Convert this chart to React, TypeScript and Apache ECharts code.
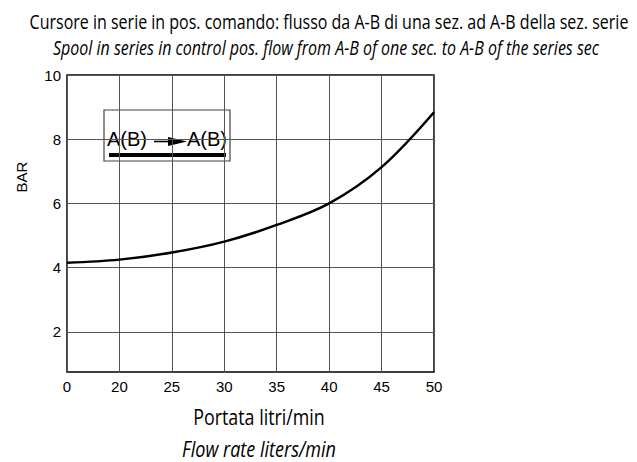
import React, { useEffect, useRef } from "react";
import * as echarts from "echarts";

const categories = ["0", "20", "25", "30", "35", "40", "45", "50"];
const pressureBar = [4.15, 4.25, 4.47, 4.81, 5.33, 6.0, 7.13, 8.84];
const yTicks = [2, 4, 6, 8, 10];
const titleIt = "Cursore in serie in pos. comando: flusso da A-B di una sez. ad A-B della sez. serie";
const titleEn = "Spool in series in control pos. flow from A-B of one sec. to A-B of the series sec";
const xNameIt = "Portata litri/min";
const xNameEn = "Flow rate liters/min";
const yName = "BAR";
const legendText = "A(B)";

const CONDENSED = "'Open Sans', 'Noto Sans', sans-serif";
const ARIAL = "'Liberation Sans', Arial, Helvetica, sans-serif";

export default function App() {
  const ref = useRef<HTMLDivElement>(null);
  useEffect(() => {
    if (!ref.current) return;
    const chart = echarts.init(ref.current, undefined, { renderer: "svg" });
    chart.setOption({
      animation: false,
      backgroundColor: "#fff",
      grid: {
        left: 67,
        right: 203,
        top: 75,
        bottom: 90,
        show: true,
        borderColor: "#000",
        borderWidth: 1.5,
        backgroundColor: "transparent",
      },
      xAxis: {
        type: "category",
        data: categories,
        boundaryGap: false,
        axisLine: { show: false },
        axisTick: { show: false },
        axisLabel: { color: "#000", fontSize: 15, fontFamily: ARIAL, margin: 7 },
        splitLine: { show: true, lineStyle: { color: "#555", width: 1 } },
      },
      yAxis: {
        type: "value",
        min: 0.75,
        max: 10,
        axisLine: { show: false },
        axisTick: { show: false, customValues: yTicks },
        axisLabel: { color: "#000", fontSize: 15, fontFamily: ARIAL, margin: 6, customValues: yTicks },
        splitLine: { show: true, lineStyle: { color: "#555", width: 1 } },
      },
      series: [
        {
          type: "line",
          data: pressureBar,
          smooth: 0.35,
          symbol: "none",
          lineStyle: { color: "#000", width: 2.5 },
          z: 3,
        },
      ],
      graphic: [
        {
          type: "text",
          x: 329,
          y: 21,
          scaleX: 0.8,
          style: {
            text: titleIt,
            fill: "#000",
            font: `20px ${CONDENSED}`,
            textAlign: "center",
            textVerticalAlign: "middle",
          },
        },
        {
          type: "text",
          x: 326,
          y: 47,
          scaleX: 0.8,
          style: {
            text: titleEn,
            fill: "#000",
            font: `italic 20px ${CONDENSED}`,
            textAlign: "center",
            textVerticalAlign: "middle",
          },
        },
        {
          type: "text",
          x: 259,
          y: 417,
          scaleX: 0.85,
          style: {
            text: xNameIt,
            fill: "#000",
            font: `21px ${CONDENSED}`,
            textAlign: "center",
            textVerticalAlign: "middle",
          },
        },
        {
          type: "text",
          x: 259,
          y: 449,
          scaleX: 0.86,
          style: {
            text: xNameEn,
            fill: "#000",
            font: `italic 21px ${CONDENSED}`,
            textAlign: "center",
            textVerticalAlign: "middle",
          },
        },
        {
          type: "text",
          x: 21,
          y: 177,
          rotation: Math.PI / 2,
          style: {
            text: yName,
            fill: "#000",
            font: `15px ${ARIAL}`,
            textAlign: "center",
            textVerticalAlign: "middle",
          },
        },
        {
          type: "group",
          z: 10,
          children: [
            {
              type: "rect",
              shape: { x: 104, y: 110, width: 126, height: 51 },
              style: { fill: "#fff", stroke: "#444", lineWidth: 1.2 },
            },
            {
              type: "text",
              x: 107,
              y: 139,
              style: { text: legendText, fill: "#000", font: `20px ${ARIAL}`, textVerticalAlign: "middle" },
            },
            {
              type: "text",
              x: 187,
              y: 139,
              style: { text: legendText, fill: "#000", font: `20px ${ARIAL}`, textVerticalAlign: "middle" },
            },
            {
              type: "line",
              shape: { x1: 154, y1: 141.5, x2: 172, y2: 141.5 },
              style: { stroke: "#000", lineWidth: 1.6 },
            },
            {
              type: "polygon",
              shape: { points: [[168, 137], [187, 141.5], [168, 146]] },
              style: { fill: "#000" },
            },
            {
              type: "rect",
              shape: { x: 109, y: 153, width: 117, height: 4 },
              style: { fill: "#000" },
            },
          ],
        },
      ],
    });
    return () => chart.dispose();
  }, []);
  return (
    <div
      ref={ref}
      style={{ position: "absolute", left: 0, top: 0, width: 637, height: 462 }}
    />
  );
}
